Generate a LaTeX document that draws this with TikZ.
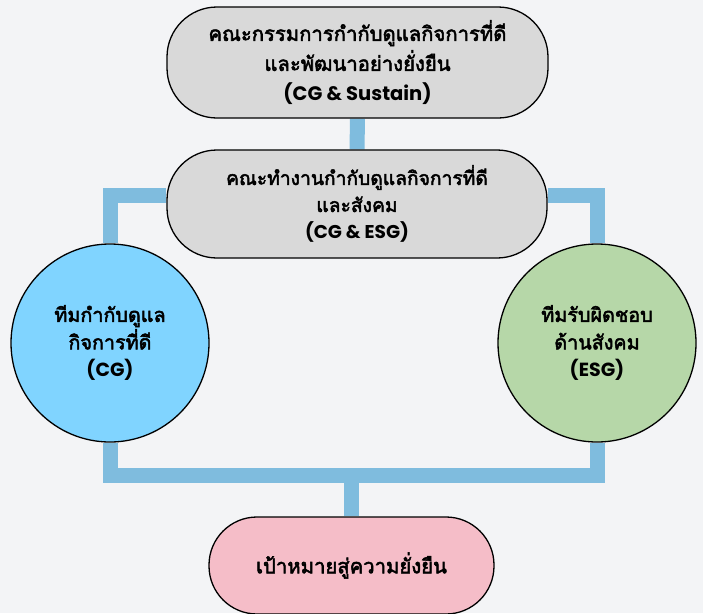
\documentclass[tikz,border=0pt]{standalone}
\usepackage{fontspec}
\setmainfont{Poppins}
\newfontfamily\thai[Script=Thai,AutoFakeBold=2.6,Scale=1.04]{Loma}
\definecolor{bgc}{HTML}{F3F4F6}
\definecolor{connc}{HTML}{7FBCDE}
\definecolor{grayc}{HTML}{D9D9D9}
\definecolor{bluec}{HTML}{80D4FF}
\definecolor{greenc}{HTML}{B6D7A8}
\definecolor{pinkc}{HTML}{F5BDC8}
\pgfdeclarelayer{bglayer}
\pgfdeclarelayer{connlayer}
\pgfsetlayers{bglayer,connlayer,main}
\tikzset{
  conn/.style={draw=connc, line width=15pt, line join=miter, line cap=butt},
  pill/.style={draw=black, line width=1.3pt, rectangle, rounded corners=50pt, align=center, inner sep=0pt},
  team/.style={draw=black, line width=1.3pt, circle, minimum size=198pt, inner sep=0pt, align=center},
}
\begin{document}
\begin{tikzpicture}[x=1pt,y=-1pt]
\begin{pgfonlayer}{bglayer}
\fill[bgc] (0,0) rectangle (703,613);
\end{pgfonlayer}
\useasboundingbox (0,0) rectangle (703,613);
% nodes
\node[pill, fill=grayc, minimum width=381pt, minimum height=111pt,
      font=\bfseries\fontsize{19.5}{30}\selectfont] (top) at (357.5,62.5)
  {{\thai คณะกรรมการกำกับดูแลกิจการที่ดี}\\{\thai และพัฒนาอย่างยั่งยืน}\\(CG \& Sustain)};
\node[pill, fill=grayc, minimum width=380pt, minimum height=108pt,
      font=\bfseries\fontsize{18.5}{27}\selectfont] (mid) at (357,204)
  {{\thai คณะทำงานกำกับดูแลกิจการที่ดี}\\{\thai และสังคม}\\(CG \& ESG)};
\node[team, fill=bluec, font=\bfseries\fontsize{19}{27.5}\selectfont] (cg) at (110,343)
  {{\thai ทีมกำกับดูแล}\\{\thai กิจการที่ดี}\\(CG)};
\node[team, fill=greenc, font=\bfseries\fontsize{19}{27.5}\selectfont] (esg) at (597,343)
  {{\thai ทีมรับผิดชอบ}\\{\thai ด้านสังคม}\\(ESG)};
\node[pill, fill=pinkc, rounded corners=48pt, minimum width=285pt, minimum height=97pt,
      font=\bfseries\fontsize{19.5}{27}\selectfont] (goal) at (351.5,565.5)
  {\thai เป้าหมายสู่ความยั่งยืน};
% connectors
\coordinate (j) at (351.5,475);
\begin{pgfonlayer}{connlayer}
\draw[conn] (top.south) -- (mid.north);
\draw[conn] ([yshift=8.5pt]mid.west) -| (cg.north);
\draw[conn] ([yshift=8.5pt]mid.east) -| (esg.north);
\draw[conn] (cg.south) -- (cg.south |- j) -- (esg.south |- j) -- (esg.south);
\draw[conn] (j) -- (goal.north);
\end{pgfonlayer}
\end{tikzpicture}
\end{document}
